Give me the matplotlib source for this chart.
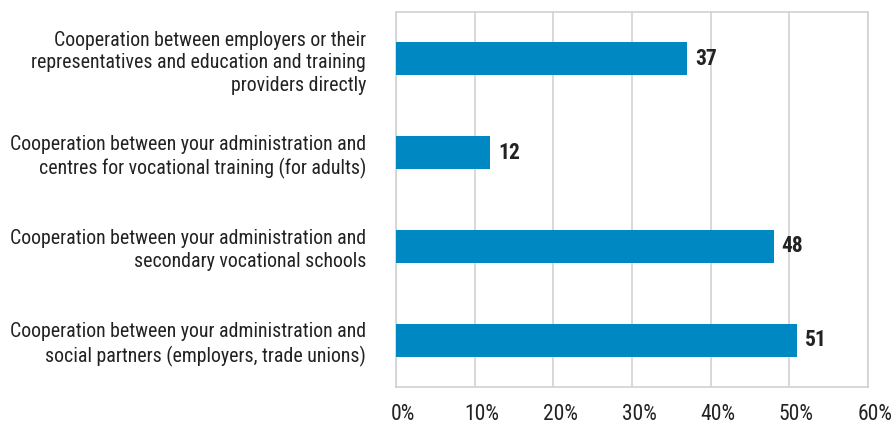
import matplotlib
matplotlib.use("Agg")
import matplotlib.pyplot as plt
from matplotlib import font_manager
from matplotlib.ticker import FuncFormatter
import matplotlib.transforms as mtransforms

categories = [
    "Cooperation between employers or their\nrepresentatives and education and training\nproviders directly",
    "Cooperation between your administration and\ncentres for vocational training (for adults)",
    "Cooperation between your administration and\nsecondary vocational schools",
    "Cooperation between your administration and\nsocial partners (employers, trade unions)",
]
values = [37, 12, 48, 51]
x_ticks = [0, 10, 20, 30, 40, 50, 60]

names = {f.name for f in font_manager.fontManager.ttflist}
family = next((n for n in ["Roboto Condensed", "Archivo Narrow", "PT Sans Narrow"] if n in names), "DejaVu Sans")
plt.rcParams["font.family"] = [family, "DejaVu Sans"]

text_color = "#222222"
bar_color = "#0088C2"
grid_color = "#d2d2d2"

fig = plt.figure(figsize=(8.94, 4.24), dpi=100)
ax = fig.add_axes([396 / 894, 1 - 387 / 424, 472 / 894, 375 / 424])

y = list(range(len(categories)))
ax.barh(y, values, height=0.352, color=bar_color, zorder=3)
for yi, v in zip(y, values):
    ax.text(v + 1.0, yi, f"{v}", va="center", ha="left", fontsize=15.5,
            fontweight="bold", color=text_color)

ax.set_xlim(0, 60)
ax.set_ylim(len(categories) - 0.5, -0.5)
ax.set_xticks(x_ticks)
ax.xaxis.set_major_formatter(FuncFormatter(lambda v, p: f"{int(v)}%"))
ax.set_yticks(y)
ax.set_yticklabels(categories, fontsize=14.3, color=text_color, linespacing=1.25)
ax.tick_params(axis="y", length=0, pad=21.6)
ax.tick_params(axis="x", length=0, pad=12, labelsize=15.5, labelcolor=text_color)
for lab in ax.get_xticklabels():
    lab.set_transform(lab.get_transform() + mtransforms.ScaledTranslation(7 / 100, 0, fig.dpi_scale_trans))

ax.grid(axis="x", color=grid_color, linewidth=1.2, zorder=0)
for s in ax.spines.values():
    s.set_color(grid_color)
    s.set_linewidth(1.2)

fig.savefig("out.png", dpi=100)
